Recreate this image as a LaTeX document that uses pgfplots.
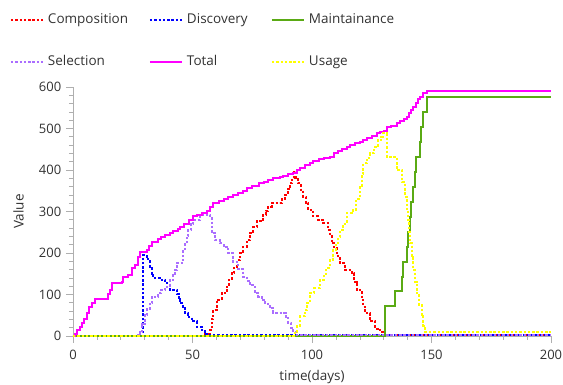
\documentclass[border=0pt]{standalone}
\usepackage{pgfplots}
\pgfplotsset{compat=1.18}
\usepackage{fontspec}
\setmainfont{Open Sans}
\definecolor{cRed}{RGB}{255,0,0}
\definecolor{cBlue}{RGB}{0,0,255}
\definecolor{cGreen}{RGB}{90,170,20}
\definecolor{cPurple}{RGB}{170,110,255}
\definecolor{cMag}{RGB}{255,0,255}
\definecolor{cYel}{RGB}{255,255,0}
\definecolor{axgray}{RGB}{175,175,175}
\definecolor{txtgray}{RGB}{50,50,50}
\begin{document}
\fontsize{13.5}{16}\selectfont
\begin{tikzpicture}
\useasboundingbox (-73pt,-49pt) rectangle (490pt,336pt);
\begin{axis}[
  at={(0,0)}, anchor=south west,
  scale only axis, width=478pt, height=249pt,
  xmin=0, xmax=200, ymin=0, ymax=600,
  axis lines=left, axis line style={axgray, line width=0.8pt, -},
  xtick={0,50,100,150,200}, ytick={0,100,...,600},
  minor x tick num=4, minor y tick num=4,
  tick align=outside,
  major tick length=7pt, minor tick length=4pt,
  every tick/.style={axgray, line width=0.6pt},
  tick label style={txtgray, font=\fontsize{13}{15}\selectfont},
  /pgf/number format/assume math mode=true,
  xticklabel style={yshift=-2pt},
  xlabel={time(days)}, ylabel={Value},
  label style={txtgray, font=\fontsize{13.5}{16}\selectfont},
  xlabel style={yshift=-2pt},
  ylabel style={yshift=6pt},
  clip=false,
  legend columns=3,
  legend style={at={(-0.1318,1.295)}, anchor=north west, draw=none, fill=none,
    inner sep=0pt, outer sep=0pt,
    nodes={inner sep=0pt, outer sep=0pt, text=txtgray, font=\fontsize{13.5}{16}\selectfont},
    row sep=30pt, column sep=0pt},
  legend cell align=left,
  legend image code/.code={\draw[#1] plot coordinates {(0pt,0pt) (32pt,0pt)};},
  every axis plot/.append style={const plot, mark=none},
]
\addplot[cRed, line width=2pt, dash pattern=on 2.5pt off 1.8pt] coordinates {
(0,0)(54.5,6)(57.3,14)(58,40)(58.7,63)(60.1,87)(62.2,103)(64.3,119)(65.3,135)(66.4,151)(67.5,167)(68.5,183)(70,199)(71.3,215)(72.7,231)(74.1,247)(75.5,262)(76.9,276)(79.6,292)(80.7,302)(81.7,312)(83.1,320)(86.6,320)(87.6,330)(88.7,340)(89.8,354)(90.8,368)(91.8,380)(92.5,395)(93.4,380)(94.3,368)(95.4,352)(96.4,336)(97.5,320)(98.5,304)(100.5,288)(102.5,280)(104.7,272)(106.8,255)(107.5,240)(108.2,223)(109.3,211)(110.3,199)(111,187)(111.7,175)(113.8,159)(116.6,151)(117.6,131)(118.7,111)(120.8,87)(121.5,71)(122.2,55)(124.3,35)(126.4,18)(128.5,10)(130,2)(200,2)};
\addlegendentry{\hspace{4pt}\makebox[101pt][l]{Composition}}
\addplot[cBlue, line width=2pt, dash pattern=on 2.5pt off 1.8pt] coordinates {
(0,0)(29.4,195)(30.8,191)(31.5,180)(32.2,167)(33,150)(33.6,139)(36.4,135)(38.5,127)(40.6,111)(43.4,100)(44.2,88)(44.8,79)(46,67)(46.9,55)(48,45)(49.7,35)(51.8,22)(53.8,14)(55.2,4)(56,2)(200,2)};
\addlegendentry{\hspace{4pt}\makebox[84pt][l]{Discovery}}
\addplot[cGreen, line width=2pt] coordinates {
(0,0)(130.5,72)(134.7,109)(137.5,143)(138.2,179)(139.6,215)(140.2,251)(141,287)(141.6,322)(142.4,360)(143.1,396)(143.6,432)(145.2,468)(145.6,504)(146.6,540)(148,577)(200,577)};
\addlegendentry{\hspace{4pt}Maintainance}
\addplot[cPurple, line width=2pt, dash pattern=on 2.5pt off 1.8pt] coordinates {
(0,0)(27.3,6)(28,10)(29,30)(30,50)(31,65)(32.2,80)(33,95)(35.7,103)(37,110)(38.5,119)(40.5,135)(41.9,147)(42.7,160)(43.4,175)(45.5,183)(46.2,205)(46.9,223)(47.6,240)(48.3,255)(49.5,270)(50.3,280)(53.1,292)(57.3,289)(58,247)(59.4,231)(61.5,223)(63,215)(65,199)(67,178)(69.2,161)(71.3,143)(72.7,133)(74.1,123)(76.1,103)(77.5,95)(78.9,87)(80.5,77)(82.4,67)(83.8,56)(88,55)(89,43)(90.1,31)(91.2,20)(92.2,10)(93.6,2)(200,2)};
\addlegendentry{\hspace{4pt}\makebox[101pt][l]{Selection}}
\addplot[cMag, line width=2pt] coordinates {
(0,0)(1,5)(1.5,14)(3,22)(3.6,31)(4.5,42)(5.7,55)(6.5,70)(8,80)(9.2,88)(13.4,90)(14.5,100)(15.5,111)(16.2,127)(20.4,131)(21,143)(23,147)(24.5,165)(26,171)(27.3,191)(28,203)(30.8,207)(31.8,217)(32.9,227)(35.7,233)(37,238)(38.5,243)(40.6,249)(42,254)(44,259)(44.8,263)(46.5,270)(48.5,280)(50.3,288)(52,292)(54,297)(56,301)(57.5,310)(58.7,320)(61,325)(63,330)(65,335)(67,340)(69,345)(71,350)(72.7,356)(75,362)(78,368)(80,372)(81.5,376)(83.8,380)(86.6,382)(88,386)(90,390)(92.2,393)(93.6,400)(95,406)(97,412)(99,418)(100.5,422)(103,427)(105,430)(107.5,432)(109,440)(111,445)(112.5,450)(114.5,456)(116,460)(118,464)(120,468)(121.5,472)(123,478)(125,482)(127,488)(128.5,492)(130,495)(131.2,504)(133,507)(135.4,514)(137,518)(138.5,524)(139.6,528)(140.5,537)(141.5,545)(142.4,552)(143.5,562)(144.5,570)(145.2,577)(146.5,585)(148,591)(200,591)};
\addlegendentry{\hspace{4pt}\makebox[84pt][l]{Total}}
\addplot[cYel, line width=2pt, dash pattern=on 2.5pt off 1.8pt] coordinates {
(0,0)(92.9,10)(93.7,25)(95,47)(97,63)(98,80)(99.2,103)(101,115)(103.3,135)(105,150)(106,165)(107.5,183)(108.9,207)(110,220)(111,238)(111.7,255)(113,270)(114.5,296)(117.3,304)(118.5,330)(120.1,360)(121,390)(121.5,416)(123,430)(124.3,440)(126,455)(127.7,472)(129,480)(129.7,488)(131.2,432)(135.4,400)(137.8,370)(138.9,336)(139.6,305)(140.3,280)(140.7,250)(141,223)(141.8,190)(142.4,159)(143.1,130)(143.8,103)(144.8,75)(145.9,47)(146.6,25)(147.3,10)(200,10)};
\addlegendentry{\hspace{4pt}Usage}
\end{axis}
\end{tikzpicture}
\end{document}
